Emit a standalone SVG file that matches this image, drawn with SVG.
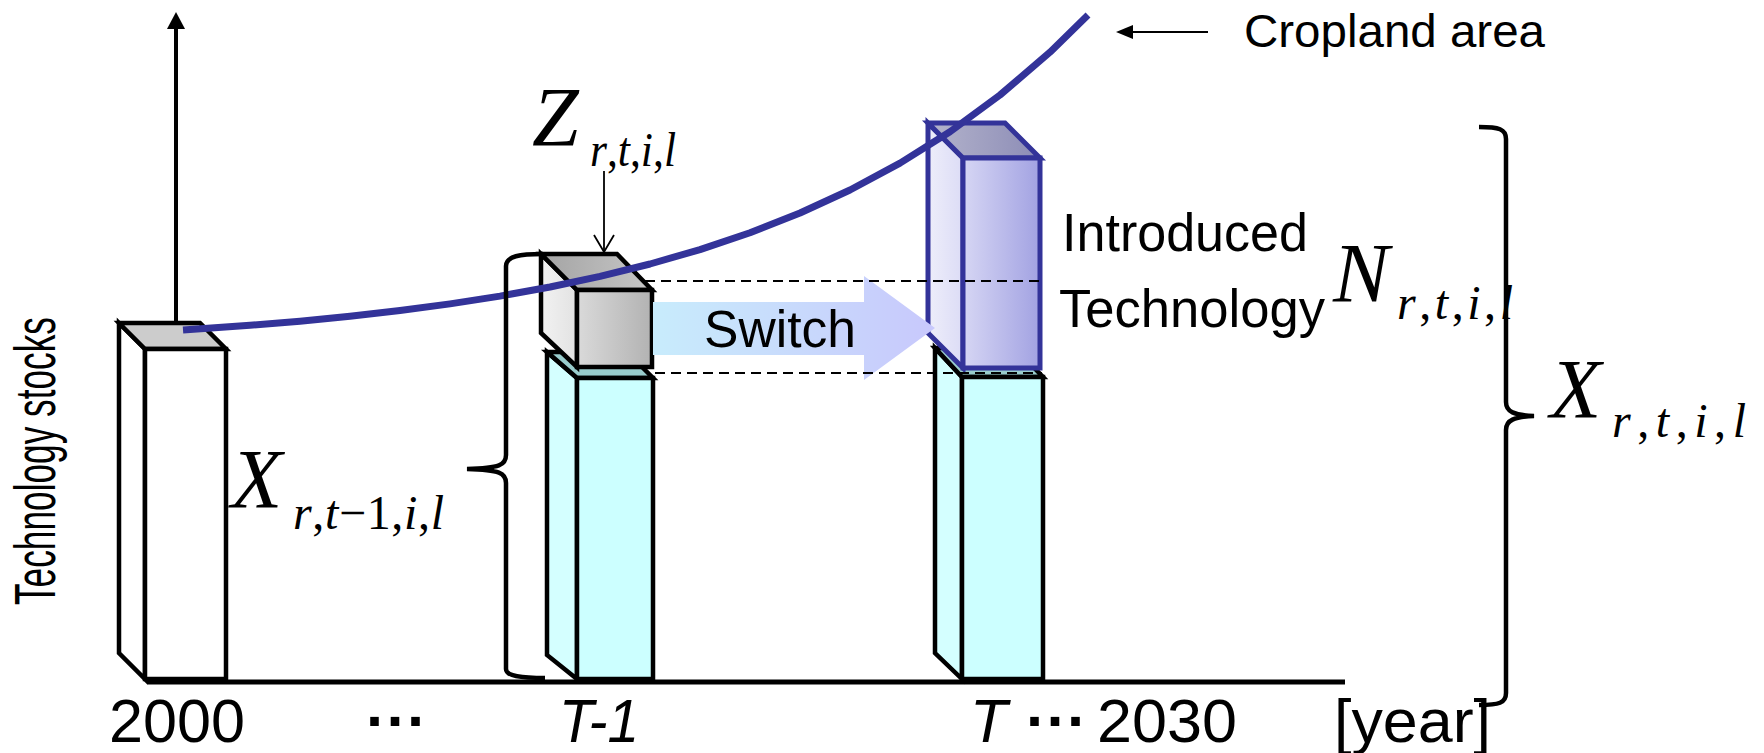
<svg xmlns="http://www.w3.org/2000/svg" width="1764" height="753" viewBox="0 0 1764 753">
<style>
.bk{stroke:#000;stroke-width:4.5;stroke-linejoin:miter}
.bl{stroke:#333399;stroke-width:5;stroke-linejoin:miter}
.t{font-family:"Liberation Sans",Arial,sans-serif;fill:#000}
.m{font-family:"Liberation Serif","Times New Roman",serif;font-style:italic;fill:#000}
.u{font-style:normal}
.dash{stroke:#000;stroke-width:2;stroke-dasharray:10 6;fill:none}
</style>
<defs>
<linearGradient id="gFront" x1="0" y1="0" x2="1" y2="0"><stop offset="0" stop-color="#dadada"/><stop offset="1" stop-color="#b2b2b2"/></linearGradient>
<linearGradient id="gSide" x1="0" y1="0" x2="1" y2="0"><stop offset="0" stop-color="#f2f2f2"/><stop offset="1" stop-color="#e2e2e2"/></linearGradient>
<linearGradient id="gTop" x1="0" y1="0" x2="1" y2="0"><stop offset="0" stop-color="#a4a4a4"/><stop offset="1" stop-color="#c6c6c6"/></linearGradient>
<linearGradient id="bFront" x1="0" y1="0" x2="1" y2="0"><stop offset="0" stop-color="#d6d6f4"/><stop offset="1" stop-color="#a2a2e2"/></linearGradient>
<linearGradient id="bSide" x1="0" y1="0" x2="1" y2="0"><stop offset="0" stop-color="#eeeefa"/><stop offset="1" stop-color="#dcdcf6"/></linearGradient>
<linearGradient id="bTop" x1="0" y1="0" x2="1" y2="0"><stop offset="0" stop-color="#b4b4cc"/><stop offset="1" stop-color="#8c8cb6"/></linearGradient>
<linearGradient id="sw" x1="0" y1="0" x2="1" y2="0"><stop offset="0" stop-color="#c8ecfc"/><stop offset="1" stop-color="#c8c8fc"/></linearGradient>
</defs>

<g id="axes">
<line x1="176" y1="322" x2="176" y2="27" stroke="#000" stroke-width="4"/>
<polygon points="176,12 167,29 185,29" fill="#000"/>
<line x1="147" y1="682" x2="1345" y2="682" stroke="#000" stroke-width="5"/>
<text class="t" font-size="58" transform="translate(55,461) rotate(-90)" text-anchor="middle" textLength="288" lengthAdjust="spacingAndGlyphs">Technology stocks</text>
</g>

<g id="box2000">
<polygon class="bk" points="119,323 145,349 145,679 119,653" fill="#fff"/>
<polygon class="bk" points="119,323 200,323 226,349 145,349" fill="#ccc"/>
<rect class="bk" x="145" y="349" width="81" height="330" fill="#fff"/>
</g>

<g id="boxT1-base">
<polygon class="bk" points="547,352 577,378 577,679 547,655" fill="#d4ffff"/>
<polygon class="bk" points="547,352 627,352 653,378 577,378" fill="#99cccc"/>
<rect class="bk" x="577" y="378" width="76" height="301" fill="#ccffff"/>
</g>

<g id="boxT1-switched">
<polygon class="bk" points="541,254 577,290 577,367 541,333" fill="url(#gSide)"/>
<polygon class="bk" points="541,254 617,254 652,290 577,290" fill="url(#gTop)"/>
<rect class="bk" x="577" y="290" width="75" height="77" fill="url(#gFront)"/>
</g>

<g id="boxT-base">
<polygon class="bk" points="935,348 962,377 962,679 935,653" fill="#d4ffff"/>
<polygon class="bk" points="935,348 1015,348 1043,377 962,377" fill="#99cccc"/>
<rect class="bk" x="962" y="377" width="81" height="302" fill="#ccffff"/>
</g>

<g id="boxT-introduced">
<polygon class="bl" points="928,123 963,158 963,368 928,333" fill="url(#bSide)"/>
<polygon class="bl" points="928,123 1005,123 1040,158 963,158" fill="url(#bTop)"/>
<rect class="bl" x="963" y="158" width="77" height="210" fill="url(#bFront)"/>
</g>

<g id="connectors">
<polygon id="switch-arrow" points="653,302 864,302 864,276 935,328 864,380 864,355 653,355" fill="url(#sw)"/>
<path class="dash" d="M645 281 H1041 M655 373 H1042"/>
<line x1="604" y1="171" x2="604" y2="251" stroke="#000" stroke-width="1.8"/>
<polyline points="594,235 604,252 614,235" fill="none" stroke="#000" stroke-width="1.8"/>
<line x1="1208" y1="32" x2="1130" y2="32" stroke="#000" stroke-width="2"/>
<polygon points="1116,32 1133,25 1133,39" fill="#000"/>
<path d="M183 330 L250 325.3 L300 321.2 L350 316.3 L400 310.6 L450 303.9 L500 296.1 L550 287 L600 276.4 L650 264 L700 249.6 L750 232.7 L800 213 L850 190 L900 163.1 L950 131.7 L1000 95 L1050 52.2 L1088 15" fill="none" stroke="#333399" stroke-width="7" stroke-linejoin="round"/>
<path d="M543 254 C520 254 506 256 506 266 L506 455 C506 465 500 468 467 469 C500 470 506 473 506 483 L506 669 C506 676 520 678 545 678" fill="none" stroke="#000" stroke-width="4.5"/>
<path d="M1479 127 C1499 127 1506 129 1506 139 L1506 402 C1506 412 1514 415 1534 416 C1514 417 1506 420 1506 430 L1506 693 C1506 703 1499 705 1479 705" fill="none" stroke="#000" stroke-width="4.5"/>
</g>

<g id="labels">
<text class="t" x="1244" y="47" font-size="46" textLength="301" lengthAdjust="spacingAndGlyphs">Cropland area</text>
<text class="t" x="704" y="347" font-size="51" textLength="152" lengthAdjust="spacingAndGlyphs">Switch</text>
<text class="t" x="1062" y="251" font-size="54" textLength="246" lengthAdjust="spacingAndGlyphs">Introduced</text>
<text class="t" x="1059" y="327" font-size="54" textLength="266" lengthAdjust="spacingAndGlyphs">Technology</text>
<text class="t" x="109" y="742" font-size="61" textLength="136" lengthAdjust="spacingAndGlyphs">2000</text>
<text class="t" x="366 386.5 407" y="742" font-size="61" font-weight="bold">···</text>
<text class="t" x="559" y="742" font-size="61" font-style="italic" textLength="80" lengthAdjust="spacingAndGlyphs">T-1</text>
<text class="t" x="970" y="742" font-size="61" font-style="italic">T</text>
<text class="t" x="1026 1046.5 1067" y="742" font-size="61" font-weight="bold">···</text>
<text class="t" x="1097" y="742" font-size="61" textLength="140" lengthAdjust="spacingAndGlyphs">2030</text>
<text class="t" x="1334" y="742" font-size="61" textLength="157" lengthAdjust="spacingAndGlyphs">[year]</text>

<text class="m" x="532" y="146" font-size="84">Z</text>
<text class="m" x="590" y="166" font-size="48" textLength="86" lengthAdjust="spacingAndGlyphs">r<tspan class="u">,</tspan>t<tspan class="u">,</tspan>i<tspan class="u">,</tspan>l</text>

<text class="m" x="231" y="508" font-size="84">X</text>
<text class="m" x="293" y="529" font-size="48" textLength="151">r<tspan class="u">,</tspan>t<tspan class="u">−1,</tspan>i<tspan class="u">,</tspan>l</text>

<text class="m" x="1333" y="302" font-size="84">N</text>
<text class="m" x="1397" y="319" font-size="48" textLength="116">r<tspan class="u">,</tspan>t<tspan class="u">,</tspan>i<tspan class="u">,</tspan>l</text>

<text class="m" x="1550" y="418" font-size="84">X</text>
<text class="m" x="1612" y="437" font-size="48" textLength="134">r<tspan class="u">,</tspan>t<tspan class="u">,</tspan>i<tspan class="u">,</tspan>l</text>
</g>
</svg>
